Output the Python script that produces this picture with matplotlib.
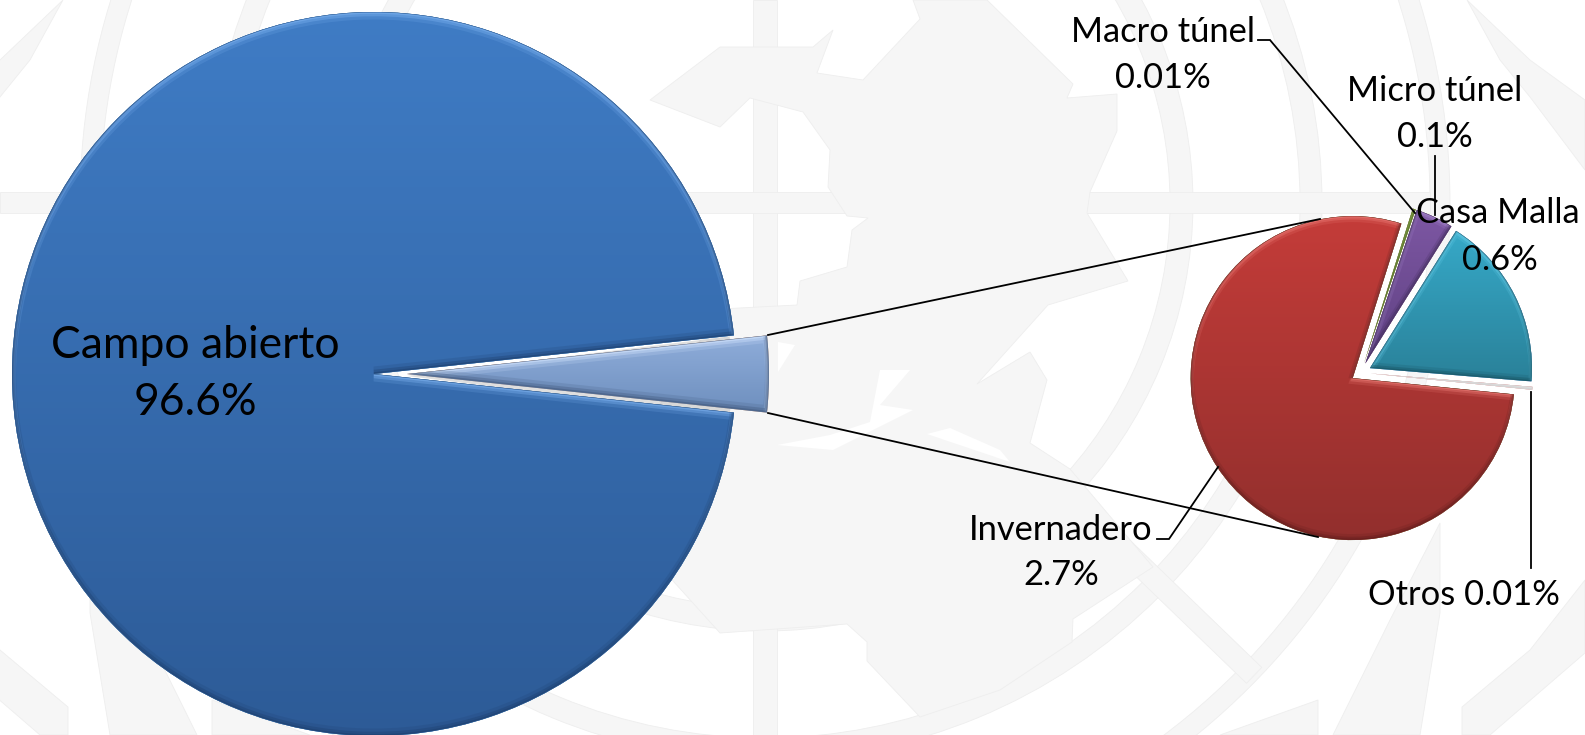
import numpy as np
import matplotlib
matplotlib.use("Agg")
import matplotlib.pyplot as plt
from matplotlib.colors import LinearSegmentedColormap
from matplotlib.patches import Polygon, Wedge, Rectangle, PathPatch
from matplotlib.transforms import Affine2D

# ---------- data ----------
main_labels = ["Campo abierto", "Protegido"]
main_values = [96.6, 3.4]
detail_labels = ["Invernadero", "Otros", "Casa Malla", "Micro túnel", "Macro túnel"]
detail_values = [2.7, 0.01, 0.6, 0.13, 0.01]
detail_text = ["2.7%", "0.01%", "0.6%", "0.1%", "0.01%"]

W, H = 1585, 735
plt.rcParams["font.family"] = ["Lato", "DejaVu Sans"]
fig = plt.figure(figsize=(W / 100, H / 100), dpi=100, facecolor="white")
ax = fig.add_axes([0, 0, 1, 1])


def Y(py):
    return H - py


def P(pts):
    return [(x, Y(y)) for x, y in pts]


GRAY = "#f6f6f6"
EDGE = "#eeeeee"


# ---------- watermark ----------
def add_poly(pts, color=GRAY, z=0.2):
    ax.add_patch(Polygon(P(pts), closed=True, fc=color, ec=EDGE if color == GRAY else "none", lw=0.6, zorder=z))


CX, CY = 765, 203
for r0, r1 in [(405, 428), (535, 557), (665, 685)]:
    ax.add_patch(Wedge((CX, Y(CY)), r1, 0, 360, width=r1 - r0, fc=GRAY, ec=EDGE, lw=0.6, zorder=0.1))
ax.add_patch(Rectangle((753, 0), 24, H, fc=GRAY, ec=EDGE, lw=0.6, zorder=0.1))
ax.add_patch(Rectangle((0, Y(213)), 1430, 21, fc=GRAY, ec=EDGE, lw=0.6, zorder=0.1))
for sx in (1, -1):
    a = np.deg2rad(44)
    for_r = np.array([420, 680])
    xs = CX + sx * for_r * np.cos(a)
    ys = CY + for_r * np.sin(a)
    nx, ny = -np.sin(a) * 11 * sx, np.cos(a) * 11
    add_poly([(xs[0] + nx, ys[0] + ny), (xs[1] + nx, ys[1] + ny), (xs[1] - nx, ys[1] - ny), (xs[0] - nx, ys[0] - ny)], z=0.1)

land = [(913, 0), (987, 0), (1073, 84), (1067, 98), (1117, 94), (1117, 131), (1090, 192), (1087, 213),
        (1128, 281), (1048, 305), (977, 384), (1030, 352), (1047, 380), (1030, 443), (1070, 469),
        (1153, 567), (1073, 619), (1072, 642), (1000, 690), (920, 717), (867, 661), (867, 642),
        (847, 624), (720, 633), (600, 500), (720, 309), (797, 305), (800, 281), (847, 267), (852, 230),
        (868, 218), (847, 216), (828, 187), (830, 150), (803, 112), (750, 98), (720, 127), (650, 100),
        (720, 47), (813, 47), (833, 30), (817, 73), (863, 80), (920, 19)]
add_poly(land)
add_poly([(777, 445), (833, 450), (913, 410), (880, 405), (910, 370), (880, 370), (870, 422), (830, 435)], "white", 0.3)
add_poly([(927, 434), (1010, 462), (1000, 450), (950, 428)], "white", 0.3)
add_poly([(778, 372), (795, 345), (778, 342)], "white", 0.3)

leaves = [
    [(1462, 707), (1530, 650), (1585, 580), (1585, 653), (1490, 735), (1462, 735)],
    [(1333, 735), (1390, 620), (1440, 523), (1440, 613), (1420, 735)],
    [(1220, 735), (1318, 700), (1318, 735)],
    [(1467, 0), (1530, 60), (1585, 100), (1585, 170), (1530, 97), (1500, 60)],
]
for leaf in leaves:
    add_poly(leaf)
    add_poly([(1530 - x, y) for x, y in leaf])


# ---------- pies ----------
def shaded(wedges, colours, k=1.0):
    for w, (top, bottom, light, dark) in zip(wedges, colours):
        w.set_zorder(2)
        w.set_edgecolor("none")
        path = w.get_patch_transform().transform_path(w.get_path())
        bb = path.get_extents()
        cmap = LinearSegmentedColormap.from_list("g", [top, bottom])
        im = ax.imshow(np.linspace(0, 1, 128)[:, None], cmap=cmap, aspect="auto", origin="upper",
                       extent=[bb.x0, bb.x1, bb.y0, bb.y1], zorder=2.1)
        im.set_clip_path(w)
        for colour, sign in ((light, -1), (dark, 1)):
            for lw, al, sh in ((8 * k, 0.18, 3.5 * k), (4.5 * k, 0.35, 2.0 * k), (2 * k, 0.5, 0.8 * k)):
                moved = path.transformed(Affine2D().translate(0, sign * sh))
                pp = PathPatch(moved, fc="none", ec=colour, lw=lw * 0.72, alpha=al, zorder=2.2, joinstyle="miter")
                ax.add_patch(pp)
                pp.set_clip_path(w)


main_w, _ = ax.pie(main_values, explode=[0, 33], startangle=180 - main_values[0] * 1.8,
                   center=(374, Y(374)), radius=362, frame=True,
                   wedgeprops={"linewidth": 0}, labels=None)
shaded(main_w, [("#3f7cc5", "#2d5b97", "#7fb4f2", "#1d3f6d"),
                ("#8fadda", "#6e8fbe", "#d5e6ff", "#41587c")])
# soft shadow of the pulled-out wedge, in the gap it leaves
ax.add_patch(Wedge((407, Y(376)), 325, -7.0, 7.0, fc="#8c8c8c", alpha=0.28, ec="none", zorder=2.05))

det_w, _ = ax.pie(detail_values, explode=[10] * 5, startangle=72.5,
                  center=(1361, Y(372.6)), radius=162, frame=True,
                  wedgeprops={"linewidth": 0}, labels=None)
shaded(det_w, [("#c43c39", "#922f2d", "#ef7f7a", "#5e1c1b"),
               ("#e4e4e4", "#dddddd", "#eeeeee", "#d0d0d0"),
               ("#36a9c8", "#2a8199", "#6fd4f0", "#17505f"),
               ("#7d57a3", "#5f4182", "#a98ad0", "#3a2652"),
               ("#8cab45", "#6f8f34", "#b5d070", "#476020")], k=0.8)

ax.set_xlim(0, W)
ax.set_ylim(0, H)
ax.set_aspect("auto")
ax.axis("off")

# ---------- connector and leader lines ----------
lines = [
    [(768, 335), (1320, 219)],
    [(768, 413), (1318, 537)],
    [(1258, 40), (1270, 40), (1415, 213)],
    [(1435, 156), (1435, 215)],
    [(1531, 392), (1531, 568)],
    [(1157, 539), (1169, 539), (1218, 467)],
]
for ln in lines:
    xs, ys = zip(*P(ln))
    ax.plot(xs, ys, color="black", lw=1.3, zorder=3, solid_joinstyle="miter")

# ---------- labels ----------
def label(x, y, s, size):
    ax.text(x, Y(y), s, ha="center", va="center", fontsize=size, color="black", zorder=4)


label(195, 345, main_labels[0], 32)
label(195, 402, f"{main_values[0]}%", 32)
label(1163, 32, detail_labels[4], 24.8)
label(1163, 78, detail_text[4], 24.8)
label(1435, 91, detail_labels[3], 24.8)
label(1435, 137, detail_text[3], 24.8)
label(1498, 213, detail_labels[2], 24.8)
label(1500, 260, detail_text[2], 24.8)
label(1061, 530, detail_labels[0], 24.8)
label(1061, 575, detail_text[0], 24.8)
label(1464, 595, f"{detail_labels[1]} {detail_text[1]}", 24.8)

fig.savefig("out.png", dpi=100, facecolor="white")
